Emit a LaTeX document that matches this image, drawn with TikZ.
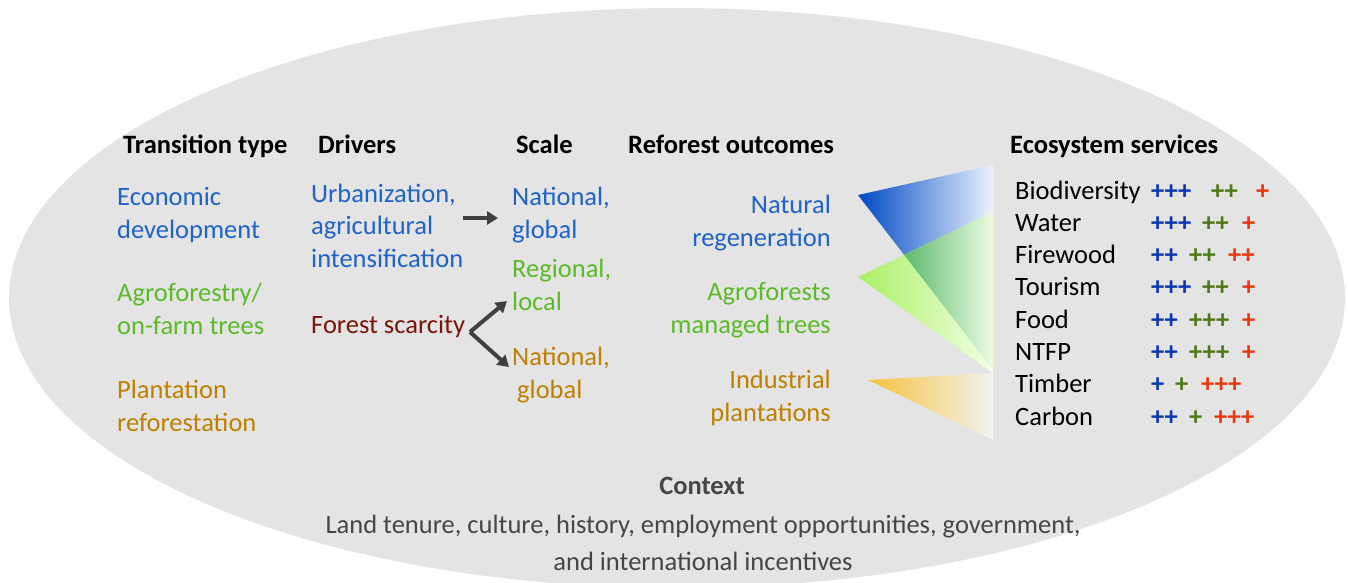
\documentclass[tikz,border=0pt]{standalone}
\usepackage{fontspec}
\setmainfont{Carlito}
\usetikzlibrary{arrows.meta}
\definecolor{ellgray}{RGB}{228,228,228}
\definecolor{tblue}{RGB}{31,99,198}
\definecolor{tgreen}{RGB}{92,186,40}
\definecolor{torange}{RGB}{190,128,0}
\definecolor{tdred}{RGB}{120,22,10}
\definecolor{pblue}{RGB}{10,55,175}
\definecolor{pgreen}{RGB}{76,122,20}
\definecolor{pred}{RGB}{232,56,12}
\definecolor{arrgray}{RGB}{64,64,64}
\definecolor{ctxgray}{RGB}{70,70,70}
\definecolor{blueL}{RGB}{0,72,196}
\definecolor{blueM}{RGB}{70,130,215}
\definecolor{blueR}{RGB}{236,243,253}
\definecolor{greenL}{RGB}{170,240,100}
\definecolor{greenR}{RGB}{242,255,228}
\definecolor{dgreenL}{RGB}{20,150,50}
\definecolor{dgreenR}{RGB}{236,252,226}
\definecolor{yelL}{RGB}{245,195,60}
\definecolor{yelR}{RGB}{242,242,240}
\begin{document}
\begin{tikzpicture}[x=1pt,y=-1pt,
  txt/.style={inner sep=0pt, font=\fontsize{26.5}{32.3}\selectfont},
  hdr/.style={inner sep=0pt, font=\fontsize{26.5}{32.3}\selectfont\bfseries, text=black},
  lblock/.style={txt, align=left, anchor=base west},
  rblock/.style={txt, align=right, anchor=base east},
  esl/.style={inner sep=0pt, font=\fontsize{26.5}{32.3}\selectfont, text=black, anchor=base west},
  plus/.style={inner sep=0pt, font=\fontsize{26.5}{32.3}\selectfont\bfseries, anchor=base west},
  arr/.style={draw=arrgray, line width=4pt, -{Triangle[length=11pt,width=13pt]}}
]
\useasboundingbox (0,0) rectangle (1348,582);
\clip (0,0) rectangle (1348,582);
\fill[white] (0,0) rectangle (1348,582);
\fill[ellgray] (677,298) ellipse [x radius=668, y radius=290];

% headers
\node[hdr, anchor=base west] (h1) at (123,153) {Transition type};
\node[hdr, anchor=base west] (h2) at (318,153) {Drivers};
\node[hdr, anchor=base west] (h3) at (516,153) {Scale};
\node[hdr, anchor=base west] (h4) at (628,153) {Reforest outcomes};
\node[hdr, anchor=base west] (h5) at (1010,153) {Ecosystem services};

% transition types (anchor = baseline of last line)
\node[lblock, text=tblue] (t1) at (117,238) {Economic\\development};
\node[lblock, text=tgreen] (t2) at (117,334) {Agroforestry/\\on-farm trees};
\node[lblock, text=torange] (t3) at (117,431) {Plantation\\reforestation};

% drivers
\node[lblock, text=tblue] (d1) at (311,267) {Urbanization,\\agricultural\\intensification};
\node[lblock, text=tdred] (d2) at (311,333) {Forest scarcity};

% scale
\node[lblock, text=tblue] (s1) at (512,238) {National,\\global};
\node[lblock, text=tgreen] (s2) at (512,310) {Regional,\\local};
\node[lblock, text=torange] (s3) at (512,398) {National,\\\hspace*{5pt}global};

% arrows
\coordinate (a1s) at (463,218);
\coordinate (a1e) at (498,218);
\coordinate (fv) at (470,332);
\coordinate (a2e) at (507,301);
\coordinate (a3e) at (509,367);
\draw[arr] (a1s) -- (a1e);
\draw[arr] (fv) -- (a2e);
\draw[arr] (fv) -- (a3e);

% outcomes
\node[rblock, text=tblue] (o1) at (831,246) {Natural\\regeneration};
\node[rblock, text=tgreen] (o2) at (831,333) {Agroforests\\managed trees};
\node[rblock, text=torange] (o3) at (831,421) {Industrial\\plantations};

% triangles
\shade[left color=blueL, middle color=blueM, right color=blueR] (858,195) -- (993,165) -- (993,370) -- cycle;
\shade[left color=greenL, right color=greenR] (858,277) -- (993,212) -- (993,373) -- cycle;
\begin{scope}
  \clip (858,195) -- (993,165) -- (993,370) -- cycle;
  \shade[left color=dgreenL, right color=dgreenR] (858,277) -- (993,212) -- (993,373) -- cycle;
\end{scope}
\shade[left color=yelL, right color=yelR] (868,380) -- (993,373) -- (993,440) -- cycle;

% ecosystem services
\foreach \i/\lab/\bx/\bp/\gx/\gp/\rx/\rp in {
  1/Biodiversity/1151/+++/1211/++/1256/+,
  2/Water/1151/+++/1202/++/1242/+,
  3/Firewood/1151/++/1189/++/1228/++,
  4/Tourism/1151/+++/1202/++/1242/+,
  5/Food/1151/++/1189/+++/1242/+,
  6/NTFP/1151/++/1189/+++/1242/+,
  7/Timber/1151/+/1175/+/1201/+++,
  8/Carbon/1151/++/1189/+/1214/+++}{
  \pgfmathsetmacro{\yy}{199+(\i-1)*32.3}
  \node[esl] (es\i) at (1015,\yy) {\lab};
  \node[plus, text=pblue] (pb\i) at (\bx,\yy) {\bp};
  \node[plus, text=pgreen] (pg\i) at (\gx,\yy) {\gp};
  \node[plus, text=pred] (pr\i) at (\rx,\yy) {\rp};
}

% context
\node[hdr, text=ctxgray, anchor=base] (ctx) at (702,494) {Context};
\node[txt, text=ctxgray, align=center, anchor=base] (ctxt) at (703,570) {Land tenure, culture, history, employment opportunities, government,\\[4.7pt]and international incentives};
\end{tikzpicture}
\end{document}
